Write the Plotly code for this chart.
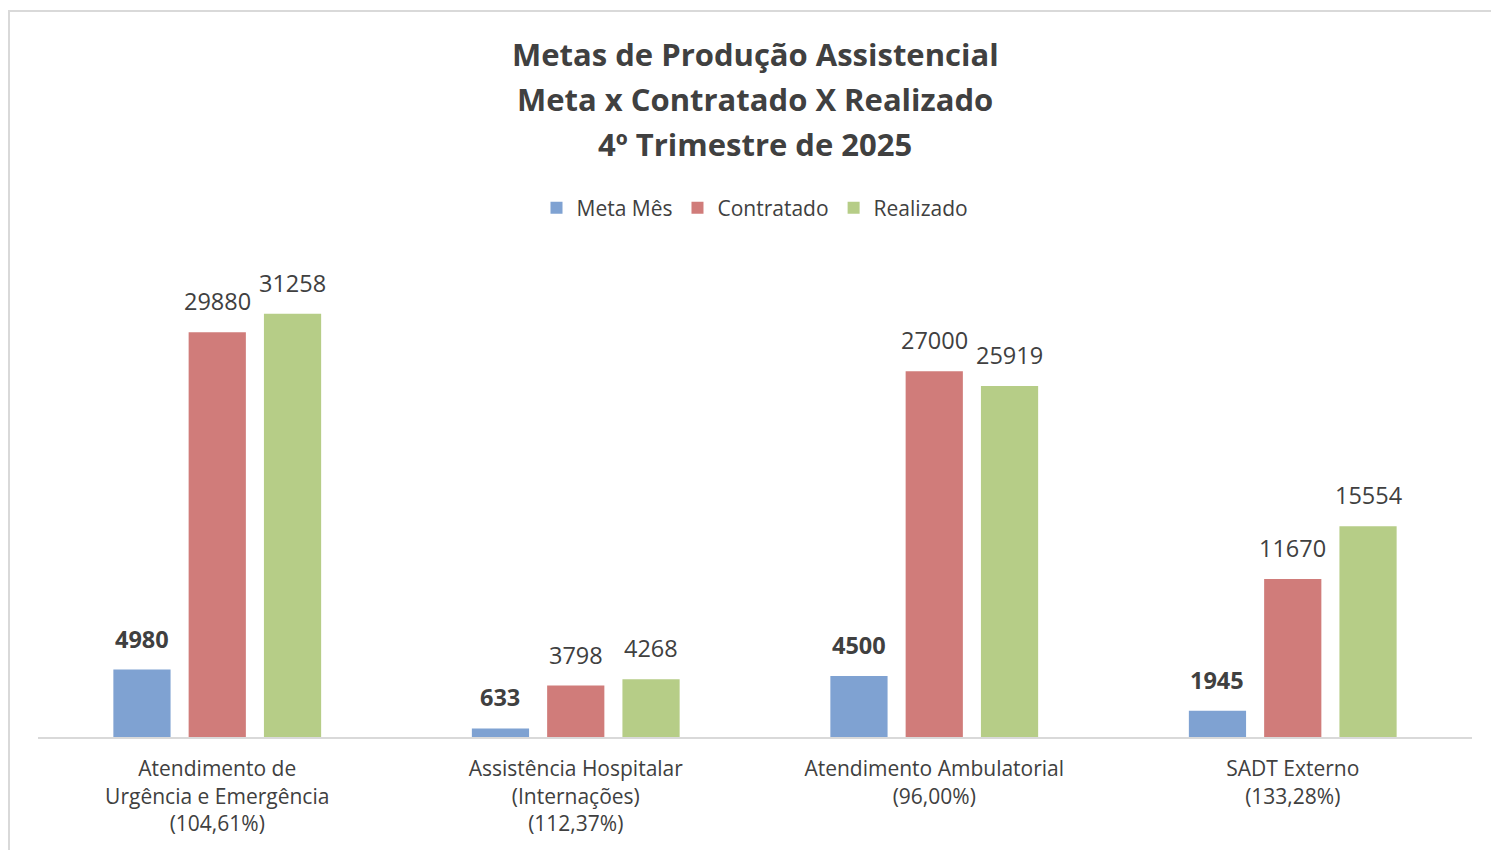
import plotly.graph_objects as go

categories = [
    "Atendimento de<br>Urgência e Emergência<br>(104,61%)",
    "Assistência Hospitalar<br>(Internações)<br>(112,37%)",
    "Atendimento Ambulatorial<br>(96,00%)",
    "SADT Externo<br>(133,28%)",
]
meta_mes = [4980, 633, 4500, 1945]
contratado = [29880, 3798, 27000, 11670]
realizado = [31258, 4268, 25919, 15554]
title_lines = [
    "Metas de Produção Assistencial",
    "Meta x Contratado X Realizado",
    "4º Trimestre de 2025",
]

series = [
    ("Meta Mês", meta_mes, "#7FA2D2", True),
    ("Contratado", contratado, "#D07C7A", False),
    ("Realizado", realizado, "#B6CD87", False),
]

FONT = "Open Sans"
TXT = "#404040"

W, H = 1491, 850
ml, mr, mt, mb = 38, 19, 263, 113
pw, ph = W - ml - mr, H - mt - mb
BARGAP = 0.37
slot = pw / len(categories) * (1 - BARGAP) / len(series)

fig = go.Figure()
annotations = []
for k, (name, vals, color, bold) in enumerate(series):
    fig.add_trace(go.Bar(
        name=name, x=categories, y=vals,
        marker=dict(color=color, line=dict(width=0)),
        hoverinfo="skip",
    ))
    for cat, v in zip(categories, vals):
        annotations.append(dict(
            x=cat, y=v, xref="x", yref="y",
            text=(f"<b>{v}</b>" if bold else f"{v}"),
            showarrow=False, yanchor="bottom", xanchor="center",
            xshift=(k - 1) * slot, yshift=13,
            font=dict(family=FONT, size=23.5, color=TXT),
        ))

for i, line in enumerate(title_lines):
    annotations.append(dict(
        x=0.5, xref="paper", y=(737 - (54 + 45 * i)) / ph, yref="paper",
        text=f"<b>{line}</b>", showarrow=False,
        xanchor="center", yanchor="middle",
        font=dict(family=FONT, size=31, color=TXT),
    ))

fig.update_layout(
    width=W, height=H,
    margin=dict(l=ml, r=mr, t=mt, b=mb),
    paper_bgcolor="white", plot_bgcolor="white",
    barmode="group", bargap=BARGAP, bargroupgap=0.24,
    font=dict(family=FONT, color=TXT),
    legend=dict(
        orientation="h", x=0.5, xanchor="center", y=(737 - 208) / ph, yanchor="middle",
        yref="paper",
        font=dict(family=FONT, size=21, color=TXT),
        itemwidth=30, traceorder="normal",
    ),
    showlegend=True,
    xaxis=dict(
        showline=True, linecolor="#D9D9D9", linewidth=2,
        tickfont=dict(family=FONT, size=21, color=TXT),
        ticks="", showgrid=False, ticklabelstandoff=12,
    ),
    yaxis=dict(range=[0, 35000], visible=False, showgrid=False),
    annotations=annotations,
    shapes=[dict(
        type="rect", xref="paper", yref="paper",
        x0=(9 - ml) / pw, x1=(W + 20 - ml) / pw,
        y0=(737 - (H + 20)) / ph, y1=(737 - 11) / ph,
        line=dict(color="#D9D9D9", width=2), fillcolor="rgba(0,0,0,0)",
        layer="below",
    )],
)

fig.write_html("out.html", config={"displayModeBar": False},
               post_script="document.body.style.margin='0';")
